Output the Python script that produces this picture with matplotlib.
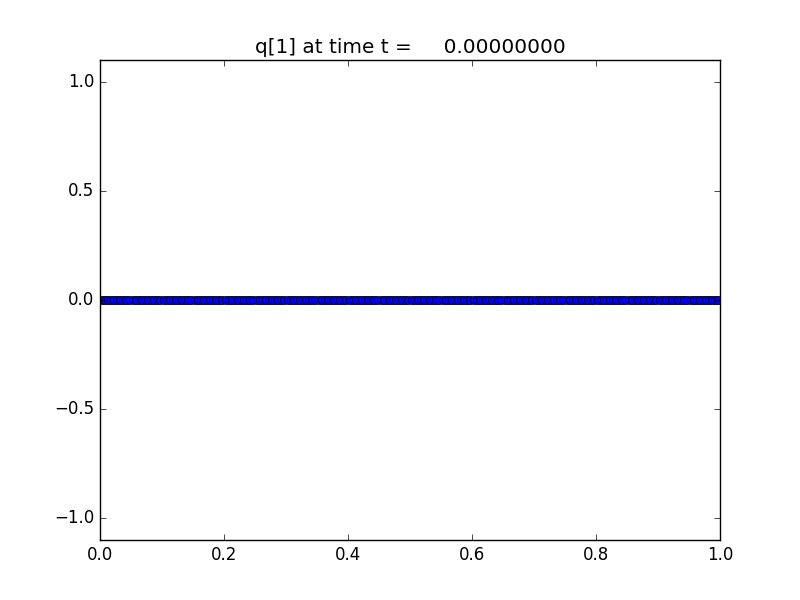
import numpy as np
import matplotlib
matplotlib.use("Agg")
import matplotlib.pyplot as plt

plt.style.use("classic")

# grid of cell centres and the solution q[1] at t = 0
mx = 200
x_centers = (np.arange(mx) + 0.5) / mx
q1 = np.zeros(mx)
t_frame = 0.0

fig = plt.figure(figsize=(8, 6), dpi=100)
ax = fig.add_subplot(1, 1, 1)
ax.plot(x_centers, q1, "bo-")
ax.set_xlim(0.0, 1.0)
ax.set_ylim(-1.1, 1.1)
ax.set_title("q[1] at time t = %14.8f" % t_frame)

fig.savefig("out.png", dpi=100)
